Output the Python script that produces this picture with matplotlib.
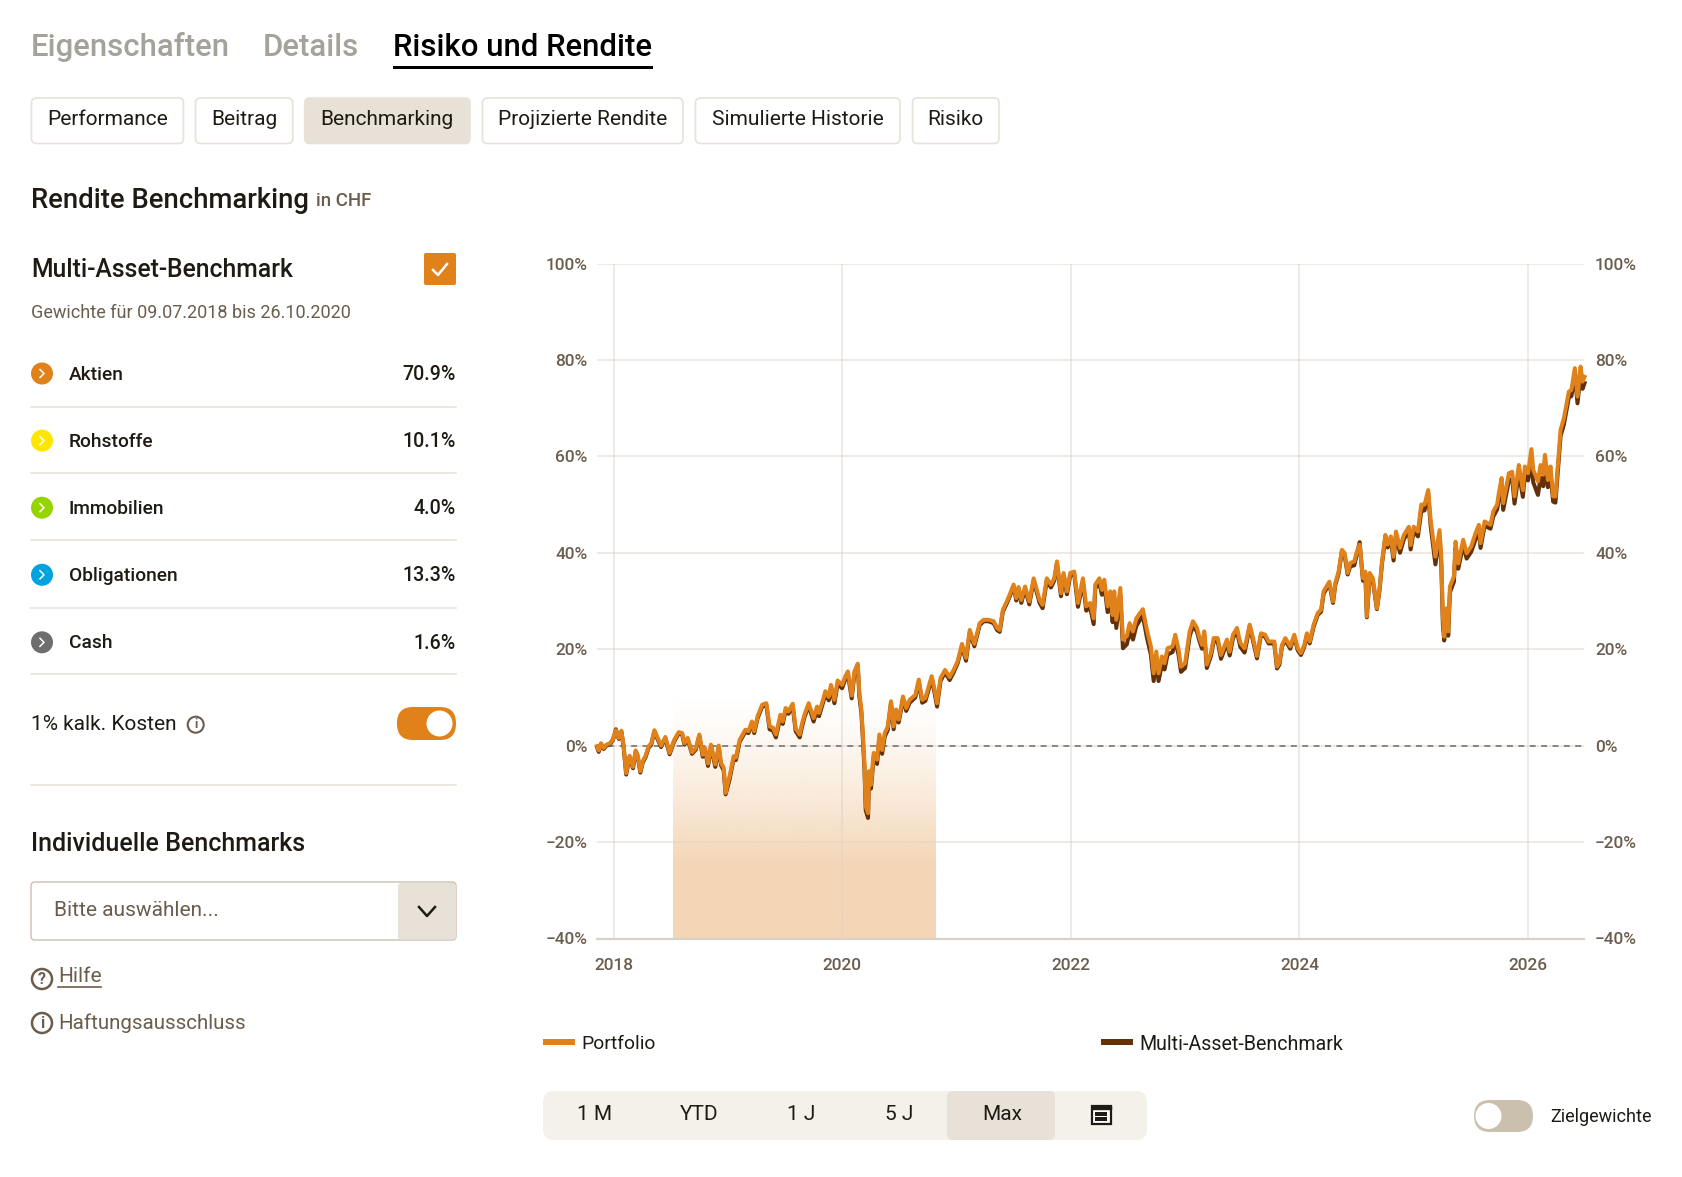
import numpy as np
import matplotlib
matplotlib.use("Agg")
import matplotlib.pyplot as plt
from matplotlib.patches import FancyBboxPatch, Circle, Rectangle
from matplotlib.colors import to_rgb

plt.rcParams['font.family'] = ['Roboto', 'DejaVu Sans']

# DATA
years = [
    2017.855, 2017.87, 2017.89, 2017.913, 2017.937, 2017.97, 2017.995, 2018.02, 2018.045, 2018.068,
    2018.088, 2018.11, 2018.14, 2018.17, 2018.193, 2018.21, 2018.234, 2018.255, 2018.278, 2018.307,
    2018.33, 2018.357, 2018.38, 2018.415, 2018.453, 2018.49, 2018.53, 2018.57, 2018.6, 2018.62,
    2018.648, 2018.686, 2018.72, 2018.75, 2018.78, 2018.8, 2018.826, 2018.852, 2018.89, 2018.92,
    2018.94, 2018.963, 2018.98, 2019.0, 2019.015, 2019.05, 2019.07, 2019.103, 2019.153, 2019.18,
    2019.21, 2019.23, 2019.26, 2019.3, 2019.336, 2019.365, 2019.395, 2019.42, 2019.46, 2019.48,
    2019.505, 2019.53, 2019.567, 2019.593, 2019.628, 2019.65, 2019.67, 2019.707, 2019.75, 2019.78,
    2019.797, 2019.832, 2019.853, 2019.882, 2019.902, 2019.932, 2019.96, 2019.999, 2020.028, 2020.05,
    2020.083, 2020.107, 2020.136, 2020.15, 2020.168, 2020.18, 2020.194, 2020.206, 2020.226, 2020.235,
    2020.252, 2020.276, 2020.305, 2020.325, 2020.349, 2020.372, 2020.398, 2020.427, 2020.45, 2020.471,
    2020.494, 2020.532, 2020.56, 2020.59, 2020.64, 2020.67, 2020.7, 2020.728, 2020.783, 2020.806,
    2020.83, 2020.86, 2020.9, 2020.94, 2020.975, 2021.01, 2021.048, 2021.083, 2021.116, 2021.156,
    2021.203, 2021.238, 2021.28, 2021.325, 2021.354, 2021.378, 2021.406, 2021.44, 2021.47, 2021.5,
    2021.523, 2021.543, 2021.567, 2021.6, 2021.637, 2021.675, 2021.727, 2021.753, 2021.79, 2021.826,
    2021.855, 2021.879, 2021.914, 2021.937, 2021.966, 2021.995, 2022.03, 2022.063, 2022.106, 2022.135,
    2022.17, 2022.2, 2022.214, 2022.25, 2022.272, 2022.293, 2022.322, 2022.345, 2022.366, 2022.38,
    2022.398, 2022.433, 2022.456, 2022.49, 2022.515, 2022.544, 2022.573, 2022.63, 2022.666, 2022.7,
    2022.725, 2022.748, 2022.768, 2022.797, 2022.82, 2022.847, 2022.89, 2022.914, 2022.943, 2022.964,
    2023.0, 2023.04, 2023.069, 2023.104, 2023.127, 2023.148, 2023.168, 2023.19, 2023.226, 2023.25,
    2023.285, 2023.314, 2023.366, 2023.39, 2023.419, 2023.454, 2023.483, 2023.52, 2023.54, 2023.565,
    2023.594, 2023.629, 2023.664, 2023.7, 2023.73, 2023.78, 2023.804, 2023.825, 2023.848, 2023.877,
    2023.92, 2023.955, 2023.985, 2024.014, 2024.043, 2024.066, 2024.09, 2024.125, 2024.16, 2024.19,
    2024.212, 2024.262, 2024.294, 2024.314, 2024.343, 2024.372, 2024.396, 2024.422, 2024.445, 2024.48,
    2024.498, 2024.527, 2024.556, 2024.577, 2024.59, 2024.615, 2024.643, 2024.678, 2024.702, 2024.722,
    2024.752, 2024.772, 2024.8, 2024.824, 2024.845, 2024.88, 2024.914, 2024.958, 2024.973, 2025.0,
    2025.037, 2025.066, 2025.095, 2025.127, 2025.148, 2025.19, 2025.226, 2025.241, 2025.255, 2025.267,
    2025.288, 2025.302, 2025.317, 2025.352, 2025.366, 2025.39, 2025.433, 2025.463, 2025.503, 2025.54,
    2025.57, 2025.585, 2025.62, 2025.672, 2025.696, 2025.73, 2025.745, 2025.769, 2025.783, 2025.833,
    2025.862, 2025.882, 2025.92, 2025.955, 2025.973, 2026.0, 2026.03, 2026.046, 2026.087, 2026.11,
    2026.133, 2026.148, 2026.174, 2026.197, 2026.22, 2026.24, 2026.26, 2026.285, 2026.314, 2026.357,
    2026.38, 2026.41, 2026.433, 2026.46, 2026.477, 2026.495]

portfolio = [
    -0.1, -1.0, 0.5, -0.5, 0.2, 0.5, 1.4, 3.2, 1.6, 3.1,
    -0.1, -5.7, -2.1, -4.4, -1.0, -1.9, -5.3, -3.2, -2.2, -0.1,
    0.5, 3.2, 1.9, 0.0, 1.8, -1.5, 1.2, 2.8, 2.6, 0.5,
    1.6, -1.4, -0.5, 2.3, -1.9, -0.5, -3.7, 0.2, -3.9, 0.0,
    -3.6, -4.6, -9.8, -7.7, -6.4, -2.2, -2.5, 1.2, 3.3, 3.0,
    5.0, 3.0, 6.1, 8.5, 8.8, 4.0, 3.7, 2.3, 6.4, 5.0,
    7.8, 7.1, 8.7, 3.5, 2.3, 4.7, 6.4, 8.8, 5.7, 8.1,
    6.8, 9.5, 11.3, 10.1, 12.6, 9.5, 13.5, 12.6, 14.4, 15.4,
    10.4, 15.4, 17.0, 10.9, 7.5, 2.6, -3.6, -12.6, -14.0, -5.3,
    -8.1, -1.5, -2.9, 2.3, -0.9, 2.6, 3.9, 9.2, 4.0, 7.5,
    5.4, 10.2, 7.8, 9.5, 10.5, 13.7, 9.5, 9.9, 14.4, 11.9,
    8.8, 14.0, 15.7, 14.2, 15.7, 17.5, 21.1, 18.2, 24.0, 21.1,
    25.4, 26.1, 26.1, 25.8, 24.4, 24.0, 28.2, 29.9, 31.6, 33.4,
    30.6, 32.9, 30.2, 33.0, 29.9, 34.7, 30.2, 29.2, 34.7, 33.4,
    34.7, 38.2, 31.6, 35.8, 32.0, 35.8, 36.1, 29.6, 34.7, 28.9,
    29.6, 26.4, 33.4, 34.7, 32.3, 34.4, 28.9, 32.0, 27.1, 32.0,
    26.1, 32.7, 22.0, 22.7, 25.4, 23.7, 26.4, 28.3, 24.0, 20.6,
    15.0, 19.5, 15.0, 18.5, 17.1, 20.2, 20.6, 23.0, 19.9, 16.4,
    17.1, 23.7, 25.8, 24.4, 22.3, 20.9, 23.7, 16.8, 19.2, 22.3,
    22.3, 18.8, 22.0, 19.5, 23.0, 24.4, 21.3, 20.2, 22.3, 25.1,
    22.3, 18.6, 23.3, 23.0, 21.6, 21.6, 16.4, 17.2, 20.9, 22.3,
    20.6, 23.0, 20.2, 19.2, 20.9, 23.3, 21.6, 25.1, 27.5, 28.2,
    32.0, 34.0, 29.9, 33.7, 36.1, 40.6, 39.9, 35.8, 37.9, 38.2,
    39.9, 41.7, 34.7, 36.1, 26.8, 35.8, 34.7, 28.5, 32.7, 37.9,
    43.7, 41.7, 43.4, 39.2, 44.4, 41.0, 43.7, 45.4, 41.6, 45.4,
    44.4, 50.0, 50.0, 53.0, 46.8, 39.2, 44.7, 39.2, 26.8, 22.6,
    28.5, 23.7, 33.0, 35.1, 42.3, 37.8, 42.7, 39.9, 41.3, 44.0,
    45.8, 42.0, 46.5, 45.8, 48.6, 50.0, 52.4, 55.5, 50.3, 56.5,
    56.8, 51.7, 58.2, 53.0, 57.9, 56.5, 61.5, 57.2, 54.8, 58.2,
    56.2, 60.3, 55.1, 57.9, 51.7, 51.7, 57.9, 65.5, 67.9, 73.4,
    73.8, 78.3, 72.4, 78.6, 75.5, 76.5]

benchmark = [
    -0.3, -1.3, 0.3, -0.7, 0.0, 0.3, 1.2, 3.4, 1.4, 2.9,
    -0.4, -6.0, -2.4, -4.7, -1.2, -2.2, -5.6, -3.5, -2.5, -0.4,
    0.2, 3.0, 1.6, -0.3, 1.5, -1.8, 0.9, 2.5, 2.3, 0.2,
    1.3, -1.7, -0.8, 2.0, -2.3, -0.9, -4.2, -0.2, -4.4, -0.4,
    -4.1, -5.1, -10.1, -8.3, -7.0, -2.7, -3.0, 0.8, 2.9, 2.6,
    4.6, 2.6, 5.7, 8.1, 8.4, 3.4, 3.1, 1.7, 5.9, 4.5,
    7.3, 6.6, 8.2, 3.0, 1.7, 4.1, 5.9, 8.3, 5.0, 7.5,
    6.1, 8.9, 10.7, 9.4, 12.0, 8.8, 12.8, 11.9, 13.8, 14.8,
    9.8, 14.9, 16.6, 10.2, 6.7, 1.8, -4.5, -13.4, -15.0, -6.0,
    -8.9, -2.2, -3.8, 1.6, -1.7, 1.9, 3.2, 8.8, 3.4, 6.9,
    4.8, 9.7, 7.2, 8.9, 10.0, 13.2, 8.9, 9.3, 13.8, 11.2,
    8.1, 13.4, 15.2, 13.6, 15.2, 17.1, 20.6, 17.6, 23.5, 20.6,
    25.0, 25.8, 25.8, 25.4, 24.0, 23.6, 27.8, 29.5, 31.2, 33.0,
    30.1, 32.4, 29.6, 32.5, 29.3, 34.2, 29.6, 28.5, 34.2, 32.8,
    34.2, 37.8, 31.0, 35.3, 31.4, 35.3, 35.5, 28.8, 34.0, 28.0,
    28.6, 25.2, 32.6, 33.8, 31.3, 33.4, 27.7, 30.8, 25.6, 30.6,
    24.4, 31.4, 20.2, 21.0, 23.6, 22.0, 24.8, 27.0, 22.4, 18.9,
    13.4, 17.8, 13.4, 16.9, 15.8, 18.9, 19.4, 21.8, 18.8, 15.3,
    16.1, 22.7, 24.9, 23.6, 21.6, 20.1, 23.0, 16.1, 18.6, 21.6,
    21.6, 18.0, 21.3, 18.7, 22.3, 23.7, 20.5, 19.3, 21.6, 24.8,
    21.8, 18.1, 23.0, 22.6, 21.2, 21.2, 16.0, 16.8, 20.6, 21.9,
    20.1, 22.6, 19.8, 18.8, 20.5, 23.0, 21.2, 24.7, 27.1, 27.8,
    31.5, 33.6, 29.6, 33.3, 35.7, 40.3, 39.4, 35.5, 37.2, 37.4,
    39.2, 42.2, 34.2, 35.5, 26.6, 35.3, 34.1, 28.3, 32.4, 37.6,
    43.2, 41.1, 42.7, 38.4, 43.6, 40.0, 42.8, 44.6, 40.7, 44.5,
    43.4, 48.6, 48.8, 52.2, 45.6, 37.6, 43.4, 37.8, 25.2, 21.8,
    27.2, 22.8, 31.8, 34.0, 41.0, 36.7, 41.6, 38.8, 40.2, 42.7,
    44.8, 41.0, 45.6, 45.0, 47.5, 49.0, 51.0, 54.0, 48.9, 55.0,
    55.3, 50.2, 56.6, 51.6, 56.4, 55.0, 58.5, 54.6, 52.0, 55.6,
    53.8, 57.5, 53.6, 56.4, 50.6, 50.4, 56.6, 64.2, 66.6, 72.2,
    72.5, 77.0, 71.0, 77.2, 74.0, 75.2]

band_start = 2018.52
band_end = 2020.82
y_ticks = [-40, -20, 0, 20, 40, 60, 80, 100]
x_ticks = [2018, 2020, 2022, 2024, 2026]

main_tabs = ["Eigenschaften", "Details", "Risiko und Rendite"]
sub_tabs = ["Performance", "Beitrag", "Benchmarking", "Projizierte Rendite", "Simulierte Historie", "Risiko"]
asset_names = ["Aktien", "Rohstoffe", "Immobilien", "Obligationen", "Cash"]
asset_weights = ["70.9%", "10.1%", "4.0%", "13.3%", "1.6%"]
asset_colors = ['#e0811a', '#ffe600', '#96d400', '#00a3e0', '#6e6e6e']
ranges = ["1 M", "YTD", "1 J", "5 J", "Max"]

ORANGE = '#e0811a'
BROWN = '#633008'
TXT = '#1f1a14'
MUTED = '#6b5d4d'
LINE = '#e7e1d8'
W, H = 1682, 1177

fig = plt.figure(figsize=(W/100, H/100), dpi=100, facecolor='white')

# CHART
x0, x1, y0, y1 = 597, 1584, 263.5, 938.5
ax = fig.add_axes([x0/W, 1-y1/H, (x1-x0)/W, (y1-y0)/H])
px_per_year = 114.3
ax.set_xlim(2018-(613.6-x0)/px_per_year, 2018+(x1-613.6)/px_per_year)
ax.set_ylim(-40, 100)
for s in ['top', 'left', 'right']:
    ax.spines[s].set_visible(False)
ax.spines['bottom'].set_color('#d8d2ca')
ax.spines['bottom'].set_linewidth(1.6)
ax.patch.set_visible(False)

grad = np.zeros((256, 1, 4))
grad[:, 0, :3] = to_rgb('#f4d6b6')
yy = np.linspace(100, -40, 256)
grad[:, 0, 3] = np.clip((10-yy)/35, 0, 1)**1.3
ax.imshow(grad, extent=[band_start, band_end, -40, 100], aspect='auto', zorder=0.5)

ax.set_xticks(x_ticks)
ax.set_yticks(y_ticks)
ax.grid(True, color='#ddd3c7', alpha=0.6, lw=1.1, zorder=1)
ax.set_axisbelow(False)
ax.tick_params(length=0, labelsize=12.4, colors=MUTED, pad=7)
ax.tick_params(axis='x', pad=14)
ax.set_yticklabels([f"{v}%".replace('-', '\u2212') for v in y_ticks], fontweight='medium')
ax.set_xticklabels([str(v) for v in x_ticks], fontweight='medium')
ax.axhline(0, color='#333333', lw=1.3, dashes=(3.3, 3), zorder=2)

ax.plot(years, benchmark, color=BROWN, lw=2.9, zorder=3, solid_joinstyle='round', clip_on=False)
ax.plot(years, portfolio, color=ORANGE, lw=2.9, zorder=4, solid_joinstyle='round', clip_on=False)

ax2 = ax.twinx()
ax2.set_ylim(-40, 100)
ax2.set_yticks(y_ticks)
ax2.set_yticklabels([f"{v}%".replace('-', '\u2212') for v in y_ticks], fontweight='medium')
ax2.tick_params(length=0, labelsize=12.4, colors=MUTED, pad=8)
for s in ax2.spines.values():
    s.set_visible(False)

# UI overlay in pixels
ui = fig.add_axes([0, 0, 1, 1], zorder=-1)
ui.set_xlim(0, W)
ui.set_ylim(H, 0)
ui.axis('off')


def box(xa, xb, ya, yb, fc='white', ec='none', r=4, lw=1.2, z=1):
    ui.add_patch(FancyBboxPatch((xa, ya), xb-xa, yb-ya, boxstyle=f"round,pad=0,rounding_size={r}",
                                fc=fc, ec=ec, lw=lw, zorder=z))


def label(x, y, s, size=14, color=TXT, weight='normal', ha='left'):
    ui.text(x, y, s, fontsize=size, color=color, fontweight=weight, ha=ha, va='center')


def info(x, y, r, sign='i', lw=1.5, size=10):
    ui.add_patch(Circle((x, y), r, fc='white', ec=MUTED, lw=lw))
    ui.text(x, y, sign, fontsize=size, color=MUTED, ha='center', va='center', fontweight='bold')


# tabs
tab_x = [31, 263, 393]
tab_col = ['#a5a29c', '#a5a29c', '#000000']
for t, xp, c in zip(main_tabs, tab_x, tab_col):
    label(xp, 47.5, t, size=22.4, color=c, weight='medium')
ui.add_patch(Rectangle((393, 66), 260, 2.8, fc='black', ec='none'))

btn_a = [31.5, 195.5, 304.7, 482.5, 695.5, 912.5]
btn_b = [183.5, 292.7, 470, 683, 900, 999]
for i, (t, a, b) in enumerate(zip(sub_tabs, btn_a, btn_b)):
    active = t == "Benchmarking"
    box(a, b, 98, 143.5, fc=LINE if active else 'white', ec=LINE, r=5)
    label((a+b)/2, 119.5, t, size=15, ha='center')

label(31, 200, "Rendite Benchmarking", size=19.8, weight='medium')
label(316, 201.5, "in CHF", size=13.4, color=MUTED, weight='medium')

label(31, 270, "Multi-Asset-Benchmark", size=17.8, weight='medium')
box(424, 456, 253, 285, fc=ORANGE, r=2)
ui.plot([433, 438, 447], [270, 275, 264], color='white', lw=1.8)
label(31, 313, "Gewichte für 09.07.2018 bis 26.10.2020", size=13, color=MUTED)

row_y = [373.5, 440.6, 507.7, 574.8, 642.3]
sep_y = [406.8, 473.3, 540.4, 607.5, 674.4, 785.3]
for n, w, c, yr in zip(asset_names, asset_weights, asset_colors, row_y):
    ui.add_patch(Circle((42, yr), 11, fc=c, ec='none'))
    ui.plot([40, 44, 40], [yr-4, yr, yr+4], color='white', lw=1.1)
    label(69, yr+1, n, size=13.8, weight='medium')
    label(456, yr+1, w, size=14.1, weight='medium', ha='right')
for yr in sep_y:
    ui.plot([31, 456], [yr, yr], color=LINE, lw=1.1)

label(31, 725, "1% kalk. Kosten", size=15)
info(195.7, 724.7, 8, size=9)
box(397, 456, 707, 740, fc=ORANGE, r=16)
ui.add_patch(Circle((439.5, 723.5), 13, fc='white', ec='none', zorder=2))

label(31, 844, "Individuelle Benchmarks", size=18, weight='medium')
box(31, 456, 882, 940, fc='white', ec='#cbbfae', r=4, lw=1)
box(398, 456, 883, 939.5, fc=LINE, r=3, z=2)
label(54, 910, "Bitte auswählen...", size=15, color=MUTED)
ui.plot([419, 427, 435], [907, 916, 907], color=TXT, lw=1.8, zorder=3)

info(42, 979, 10, sign='?', lw=1.8, size=11.5)
label(58, 977, "Hilfe", size=15, color=MUTED)
ui.plot([58, 101], [987, 987], color=MUTED, lw=1.2)
info(42, 1023, 10, lw=1.8, size=11.5)
label(58, 1023, "Haftungsausschluss", size=14.8, color=MUTED)

# legend
ui.add_patch(Rectangle((543, 1039), 32, 5.5, fc=ORANGE, ec='none'))
label(581, 1044, "Portfolio", size=13.9)
ui.add_patch(Rectangle((1101, 1039), 32, 5.5, fc=BROWN, ec='none'))
label(1139, 1044, "Multi-Asset-Benchmark", size=14.1)

# range selector
box(543, 1147, 1091, 1140, fc='#f4f0ea', r=11)
box(947, 1055, 1091, 1140, fc=LINE, r=6, z=2)
range_x = [595, 699, 801, 899, 1002]
for t, xp in zip(ranges, range_x):
    ui.text(xp, 1114, t, fontsize=15, color=TXT, ha='center', va='center', zorder=3)
ui.add_patch(Rectangle((1092, 1106), 19, 18, fc='white', ec=TXT, lw=1.6, zorder=3))
ui.add_patch(Rectangle((1092, 1106), 19, 3, fc=TXT, ec=TXT, lw=1, zorder=3))
ui.scatter([1097.5, 1101.5, 1105.5]*2, [1114]*3+[1119]*3, s=8, marker='s', color=TXT, zorder=4, linewidths=0)

box(1474, 1533, 1100, 1132, fc='#cbbfae', r=16)
ui.add_patch(Circle((1488.5, 1116), 13, fc='white', ec='none', zorder=2))
label(1550, 1117, "Zielgewichte", size=13)

fig.savefig('out.png', dpi=100, facecolor='white')
